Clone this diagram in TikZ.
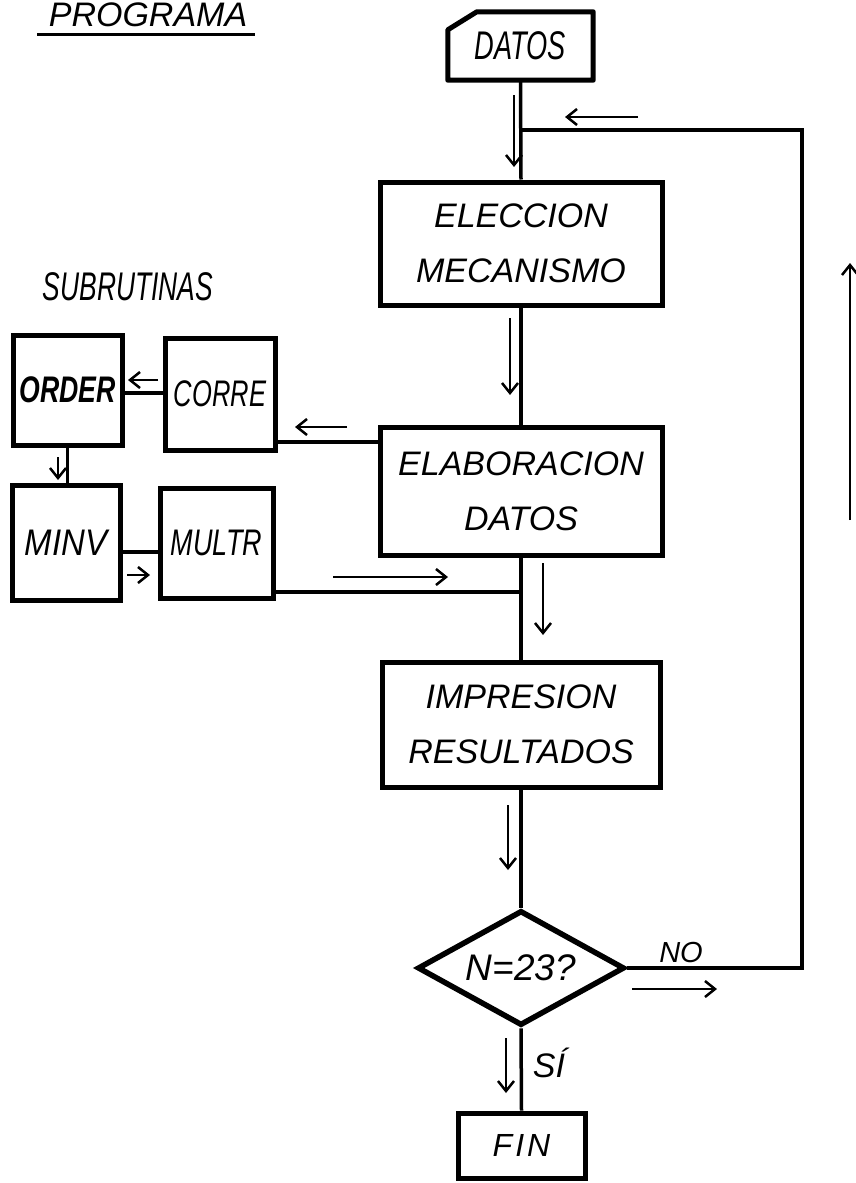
\documentclass[tikz,border=0pt]{standalone}
\usepackage{fontspec}
\setmainfont{Liberation Sans}
\usepackage{graphicx}
\usetikzlibrary{shapes.geometric,arrows.meta}
\newcommand\hsc[2]{\scalebox{#1}[1]{#2}}
\begin{document}
\begin{tikzpicture}[x=1pt,y=-1pt,
  box/.style={draw, line width=5pt, rectangle, inner sep=0pt, align=center},
  conn/.style={line width=3.5pt},
  marker/.style={line width=2.5pt, -{Straight Barb[length=10pt,width=16pt,line width=2.5pt]}},
  big/.style={font=\fontsize{34}{55}\selectfont\itshape},
  subt/.style={font=\fontsize{37}{40}\selectfont\itshape}]
\useasboundingbox[fill=white] (0,0) rectangle (856,1183);

% title and heading
\node[anchor=base, font=\fontsize{34}{40}\selectfont\itshape] (prog) at (148,26) {PROGRAMA};
\draw[line width=3pt] ([xshift=-8pt,yshift=-8pt]prog.base west) -- ([xshift=4pt,yshift=-8pt]prog.base east);
\node[anchor=base, font=\fontsize{40}{40}\selectfont\itshape] (sub) at (128,300) {\hsc{0.66}{SUBRUTINAS}};

% main flow
\node[inner sep=0pt, minimum width=145pt, minimum height=68pt, font=\fontsize{40}{40}\selectfont\itshape] (datos) at (520.5,46) {\hsc{0.68}{DATOS}};
\draw[line width=5pt, line join=round] ([yshift=-18pt]datos.north west) -- ([xshift=29pt]datos.north west) -- (datos.north east) -- (datos.south east) -- (datos.south west) -- cycle;

\node[box, big, minimum width=282pt, minimum height=123pt] (elec) at (521,243.5) {ELECCION\\MECANISMO};
\node[box, big, minimum width=282pt, minimum height=128pt] (elab) at (521,491) {ELABORACION\\DATOS};
\node[box, big, minimum width=278pt, minimum height=125pt] (impr) at (521,724.5) {IMPRESION\\RESULTADOS};
\node[draw, diamond, aspect=1.8, line width=5.5pt, inner sep=0pt, minimum width=207pt, minimum height=115pt, font=\fontsize{37}{40}\selectfont\itshape] (diam) at (521,968) {N=23?};
\node[box, minimum width=127pt, minimum height=65pt, font=\fontsize{32}{36}\selectfont\itshape] (fin) at (521.5,1145.5) {F\hspace{3pt}I\hspace{3pt}N};

\node[anchor=base, font=\fontsize{29}{30}\selectfont\itshape] (no) at (681,962) {NO};
\node[anchor=base, font=\fontsize{34}{36}\selectfont\itshape] (si) at (549,1077) {SÍ};

% subroutines
\node[box, minimum width=109pt, minimum height=110pt, font=\fontsize{37}{40}\selectfont\bfseries\itshape] (order) at (67.5,390) {\hsc{0.72}{ORDER}};
\node[box, subt, minimum width=110pt, minimum height=112pt] (corre) at (220,394) {\hsc{0.69}{CORRE}};
\node[box, subt, minimum width=108pt, minimum height=115pt] (minv) at (66,542.5) {\hsc{0.89}{MINV}};
\node[box, subt, minimum width=113pt, minimum height=110pt] (multr) at (216.5,543) {\hsc{0.73}{MULTR}};

% connectors
\coordinate (j) at (521,130);
\coordinate (loop) at (802,130);
\coordinate (k) at (521,592);
\draw[conn] (datos.south) -- (elec.north);
\draw[conn] (elec.south) -- (elab.north);
\draw[conn] (elab.south) -- (impr.north);
\draw[conn] (impr.south) -- (diam.north);
\draw[conn] (diam.south) -- (fin.north);
\draw[conn, line join=miter] (diam.east) -| (loop) -- (j);
\draw[conn] (elab.west |- 0,442) -- (corre.east |- 0,442);
\draw[conn] (multr.east |- k) -- (k);
\draw[conn] (corre.west |- 0,393) -- (order.east |- 0,393);
\draw[conn] (order.south) -- (order.south |- minv.north);
\draw[conn] (minv.east |- 0,552) -- (multr.west |- 0,552);

% direction markers
\draw[marker] (514,95) -- (514,167);
\draw[marker] (638,117) -- (565,117);
\draw[marker] (510,318) -- (510,395);
\draw[marker] (347,427) -- (295,427);
\draw[marker] (333,577) -- (448,577);
\draw[marker] (543,563) -- (543,635);
\draw[marker] (508,805) -- (508,870);
\draw[marker] (632,989) -- (717,989);
\draw[marker] (850,520) -- (850,263);
\draw[marker] (506,1038) -- (506,1093);
\draw[marker] (158,380) -- (128,380);
\draw[marker] (58,457) -- (58,480);
\draw[marker] (127,575) -- (150,575);
\end{tikzpicture}
\end{document}
